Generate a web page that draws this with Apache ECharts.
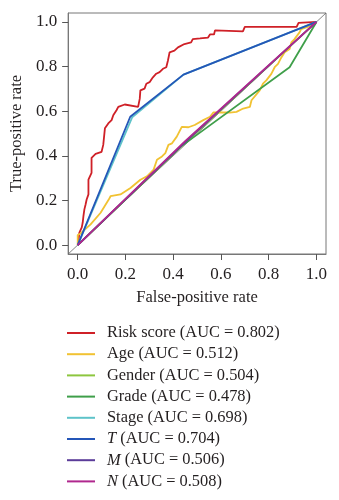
<!DOCTYPE html>
<html>
<head>
<meta charset="utf-8">
<script src="https://cdn.jsdelivr.net/npm/echarts@6/dist/echarts.min.js"></script>
<style>
  html, body { margin: 0; padding: 0; background: #fff; }
  #chart { width: 339px; height: 500px; }
</style>
</head>
<body>
<div id="chart"></div>
<script>
// ROC curves: [false-positive rate, true-positive rate]
const riskScore = [
  [0, 0], [0.003, 0.012], [0.007, 0.056], [0.017, 0.079], [0.021, 0.101], [0.024, 0.13],
  [0.028, 0.16], [0.033, 0.182], [0.0375, 0.204], [0.045, 0.227], [0.045, 0.293],
  [0.058, 0.324], [0.058, 0.391], [0.075, 0.409], [0.1, 0.418], [0.107, 0.449],
  [0.114, 0.523], [0.128, 0.545], [0.142, 0.56], [0.149, 0.582], [0.1625, 0.604],
  [0.17, 0.619], [0.176, 0.627], [0.197, 0.63], [0.253, 0.619], [0.26, 0.656],
  [0.2625, 0.693], [0.28, 0.701], [0.2875, 0.723], [0.301, 0.73], [0.315, 0.752],
  [0.329, 0.768], [0.343, 0.775], [0.357, 0.79], [0.371, 0.797], [0.378, 0.827],
  [0.385, 0.864], [0.405, 0.871], [0.42, 0.886], [0.447, 0.901], [0.475, 0.908],
  [0.482, 0.923], [0.5125, 0.926], [0.546, 0.93], [0.554, 0.944], [0.571, 0.944],
  [0.575, 0.962], [0.692, 0.958], [0.7, 0.978], [0.917, 0.978], [0.925, 0.996], [1, 1]
];
const age = [
  [0, 0], [0, 0.045], [0.01, 0.05], [0.054, 0.093], [0.096, 0.145], [0.13, 0.204],
  [0.1375, 0.219], [0.179, 0.227], [0.221, 0.256], [0.2625, 0.293], [0.29, 0.308],
  [0.318, 0.338], [0.332, 0.382], [0.353, 0.397], [0.367, 0.412], [0.38, 0.449],
  [0.395, 0.456], [0.415, 0.486], [0.436, 0.53], [0.464, 0.528], [0.49, 0.538],
  [0.526, 0.56], [0.554, 0.575], [0.568, 0.594], [0.6375, 0.594], [0.665, 0.597],
  [0.693, 0.612], [0.721, 0.619], [0.728, 0.649], [0.7625, 0.693], [0.776, 0.723],
  [0.79, 0.738], [0.811, 0.767], [0.825, 0.797], [0.839, 0.812], [0.853, 0.841],
  [0.867, 0.864], [0.8875, 0.879], [0.895, 0.908], [0.908, 0.923], [0.929, 0.953],
  [0.936, 0.968], [0.957, 0.975], [0.992, 0.99], [1, 1]
];
const gender = [[0, 0], [0.45, 0.458], [1, 1]];
const grade = [[0, 0], [0.43, 0.44], [0.8875, 0.797], [1, 1]];
const stage = [[0, 0], [0.228, 0.572], [0.443, 0.764], [1, 1]];
const tStage = [[0, 0], [0.22, 0.575], [0.443, 0.764], [1, 1]];
const mStage = [[0, 0], [0.45, 0.462], [1, 1]];
const nStage = [[0, 0], [0.45, 0.466], [1, 1]];
const reference = [[-0.04, -0.04], [1.04, 1.04]];

const seriesNames = ['Risk score', 'Age', 'Gender', 'Grade', 'Stage', 'T', 'M', 'N'];
const aucValues = ['0.802', '0.512', '0.504', '0.478', '0.698', '0.704', '0.506', '0.508'];
const italicNames = ['T', 'M', 'N'];
const curveData = [riskScore, age, gender, grade, stage, tStage, mStage, nStage];
const colors = ['#cf2027', '#f1c232', '#8dc63f', '#3f9f4a', '#5ec3c9', '#2456b8', '#5b3c99', '#b0288e'];
const tickValues = [0, 0.2, 0.4, 0.6, 0.8, 1.0];

const FONT = 'Liberation Serif';
const TEXT = '#231f20';

const chart = echarts.init(document.getElementById('chart'), null, { renderer: 'canvas' });

const series = curveData.map((d, i) => ({
  name: seriesNames[i],
  type: 'line',
  data: d,
  showSymbol: false,
  symbol: 'none',
  animation: false,
  lineStyle: { color: colors[i], width: 1.8 },
  itemStyle: { color: colors[i] },
  z: 3 + i
}));
series.unshift({
  name: 'reference',
  type: 'line',
  data: reference,
  symbol: 'none',
  animation: false,
  lineStyle: { color: '#666', width: 0.8 },
  z: 2
});

const axisCommon = {
  type: 'value',
  min: -0.04,
  max: 1.04,
  splitLine: { show: false },
  axisLine: { show: true, onZero: false, lineStyle: { color: '#777', width: 1 } },
  axisTick: { show: true, customValues: tickValues, length: 6, lineStyle: { color: '#555', width: 1 } },
  axisLabel: {
    customValues: tickValues,
    formatter: v => v.toFixed(1),
    fontFamily: FONT, fontSize: 17, color: TEXT
  },
  nameLocation: 'middle',
  nameTextStyle: { fontFamily: FONT, fontSize: 16.5, color: TEXT }
};

chart.setOption({
  backgroundColor: '#fff',
  animation: false,
  grid: {
    left: 67, top: 13, width: 259, height: 241,
    show: true, borderColor: '#777', borderWidth: 1, backgroundColor: 'transparent'
  },
  xAxis: Object.assign({}, axisCommon, {
    name: 'False-positive rate',
    nameGap: 35,
    axisLabel: Object.assign({}, axisCommon.axisLabel, { margin: 12 })
  }),
  yAxis: Object.assign({}, axisCommon, {
    name: 'True-positive rate',
    nameGap: 36,
    axisLabel: Object.assign({}, axisCommon.axisLabel, { margin: 11 })
  }),
  legend: {
    orient: 'vertical',
    left: 67,
    top: 325,
    padding: 0,
    height: 175,
    icon: 'rect',
    itemWidth: 28,
    itemHeight: 2,
    itemGap: 5.2,
    data: seriesNames,
    formatter: name => {
      const i = seriesNames.indexOf(name);
      const label = italicNames.includes(name) ? '{it|' + name + '}' : name;
      return label + ' (AUC = ' + aucValues[i] + ')';
    },
    textStyle: {
      fontFamily: FONT, fontSize: 16.4, color: TEXT, padding: [0, 0, 0, 7],
      rich: { it: { fontFamily: FONT, fontSize: 16.4, fontStyle: 'italic', color: TEXT } }
    }
  },
  series: series
});
</script>
</body>
</html>
